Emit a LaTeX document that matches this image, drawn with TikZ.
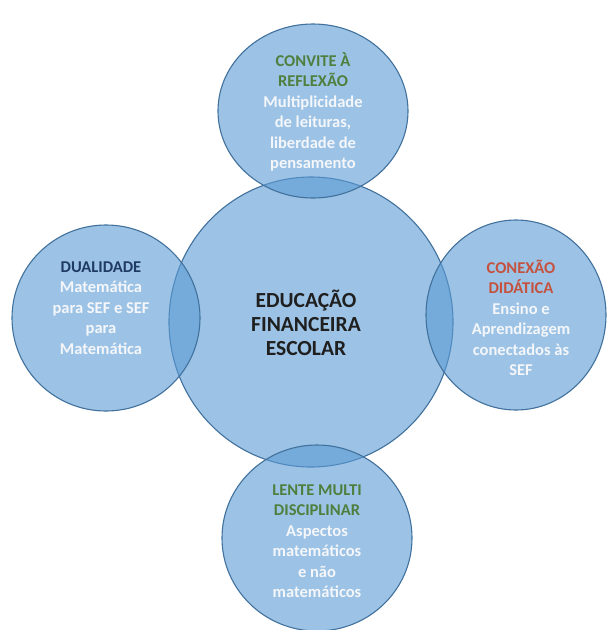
\documentclass[tikz,border=0pt]{standalone}
\usepackage{fontspec}
\setmainfont{Carlito}
\usetikzlibrary{shapes.geometric}
\definecolor{circfill}{HTML}{5B9BD5}
\definecolor{circline}{HTML}{41719C}
\definecolor{tgreen}{HTML}{4E7F3E}
\definecolor{tnavy}{HTML}{1F3A64}
\definecolor{tred}{HTML}{C4523F}
\definecolor{tbody}{HTML}{F4F6FA}
\tikzset{
  bubble/.style={ellipse, draw=circline, line width=1.1pt, fill=circfill, fill opacity=0.6, draw opacity=1, inner sep=0pt},
  small/.style={align=center, font=\fontsize{16.5}{20.5}\selectfont\bfseries, text=tbody, inner sep=0pt},
  big/.style={align=center, font=\fontsize{21.5}{24}\selectfont\bfseries, text=black!88, inner sep=0pt}
}
\begin{document}
\begin{tikzpicture}[x=1pt,y=-1pt]
\useasboundingbox (0,0) rectangle (606,630);
\fill[white] (0,0) rectangle (606,630);
% circles
\node[bubble, minimum width=284pt, minimum height=290pt] (cMain) at (311,322) {};
\node[bubble, minimum width=190pt, minimum height=174pt] (cTop) at (313,111) {};
\node[bubble, minimum width=188pt, minimum height=186pt] (cLeft) at (106,318) {};
\node[bubble, minimum width=180pt, minimum height=190pt] (cRight) at (516,315) {};
\node[bubble, minimum width=190pt, minimum height=186pt] (cBottom) at (317,538) {};
% texts
\node[big] (tMain) at (306,323) {EDUCAÇÃO\\FINANCEIRA\\ESCOLAR};
\node[small] (tTop) at (313,112) {\textcolor{tgreen}{CONVITE À}\\\textcolor{tgreen}{REFLEXÃO}\\Multiplicidade\\de leituras,\\liberdade de\\pensamento};
\node[small] (tLeft) at (101,308) {\textcolor{tnavy}{DUALIDADE}\\Matemática\\para SEF e SEF\\para\\Matemática};
\node[small] (tRight) at (521,318) {\textcolor{tred}{CONEXÃO}\\\textcolor{tred}{DIDÁTICA}\\Ensino e\\Aprendizagem\\conectados às\\SEF};
\node[small] (tBottom) at (317,541) {\textcolor{tgreen}{LENTE MULTI}\\\textcolor{tgreen}{DISCIPLINAR}\\Aspectos\\matemáticos\\e não\\matemáticos};
\end{tikzpicture}
\end{document}
